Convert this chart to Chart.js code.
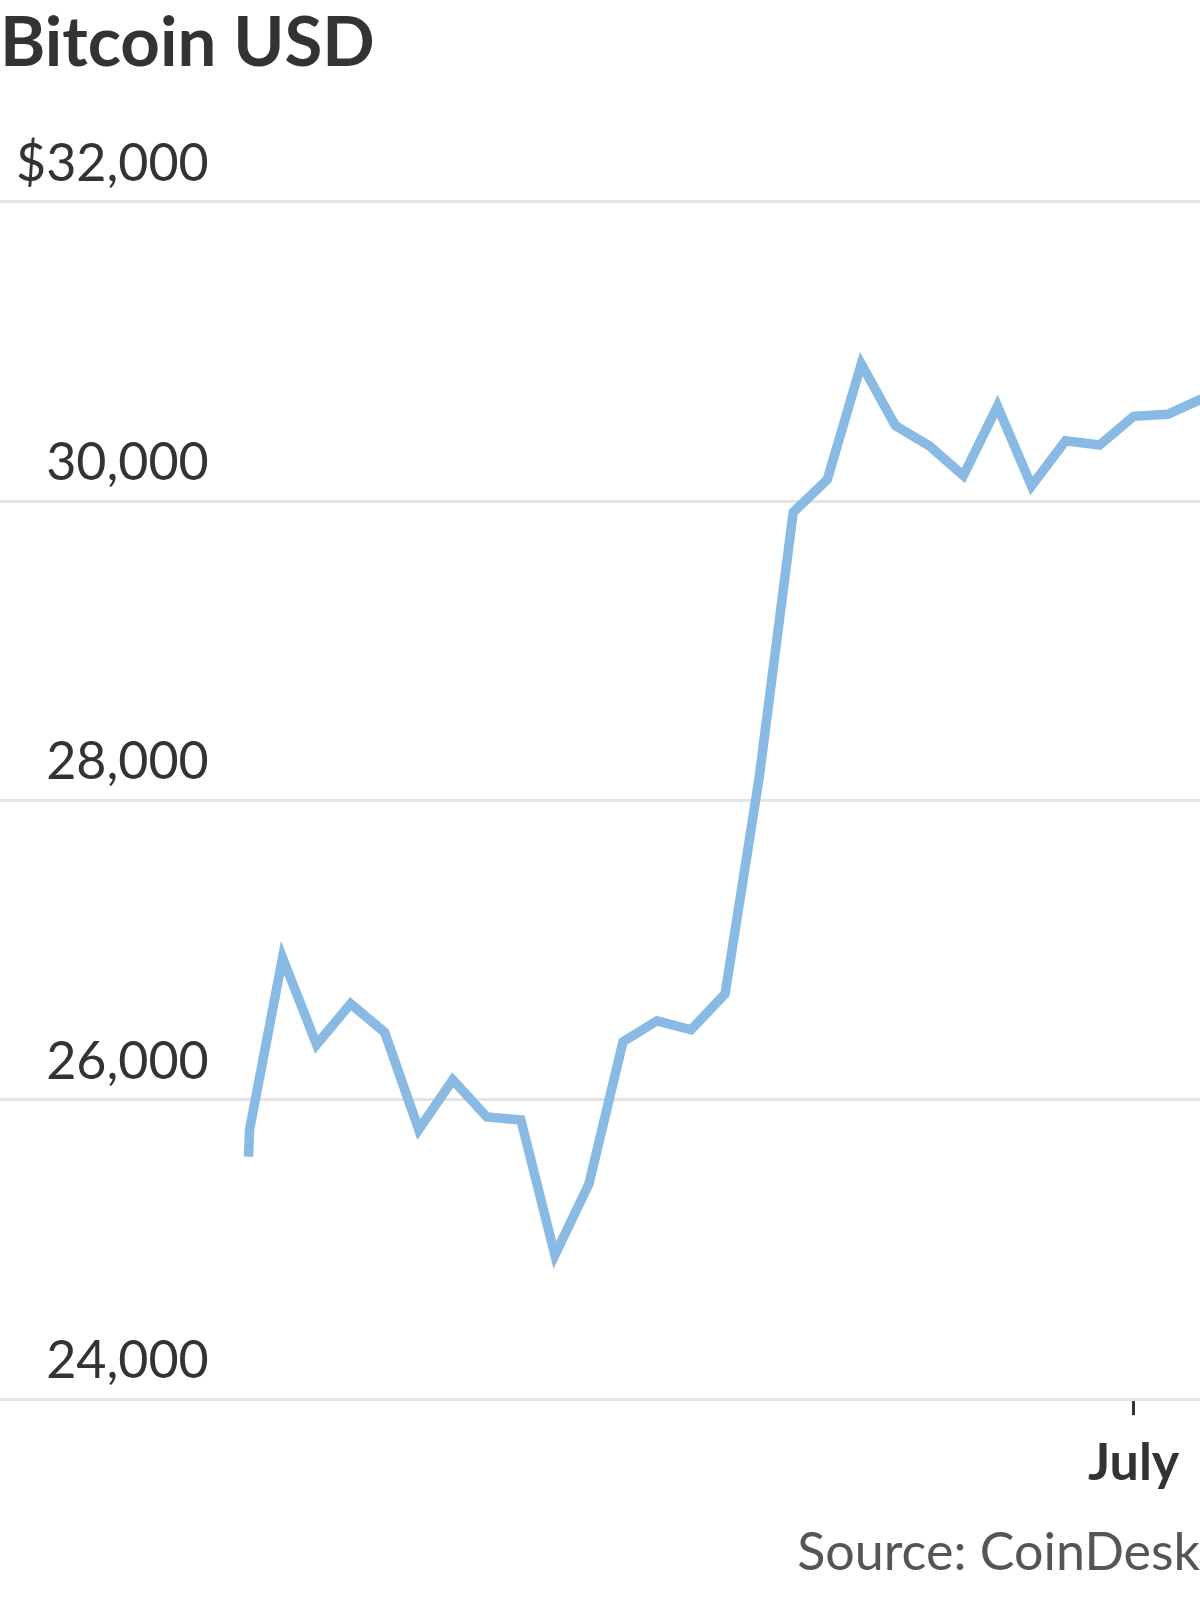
<!DOCTYPE html>
<html>
<head>
<meta charset="utf-8">
<script src="https://cdn.jsdelivr.net/npm/chart.js@4/dist/chart.umd.min.js"></script>
<style>
  html, body { margin: 0; padding: 0; background: #ffffff; }
  #wrap { width: 1200px; height: 1600px; position: relative; }
</style>
</head>
<body>
<div id="wrap"><canvas id="c"></canvas></div>
<script>
// Days relative to July 1 (0 = July 1)
const dayOffsets = [-26, -25.97, -25, -24, -23, -22, -21, -20, -19, -18, -17, -16, -15, -14, -13,
  -12, -11, -10, -9, -8, -7, -6, -5, -4, -3, -2, -1, 0, 1, 2];
const prices = [25620, 25800, 26949, 26369, 26642, 26451, 25802, 26134, 25886, 25866, 24963, 25438,
  26388, 26528, 26468, 26709, 28152, 29925, 30143, 30916, 30505, 30369, 30171, 30635, 30102, 30403,
  30375, 30567, 30580, 30683];

const yTickValues = [24000, 26000, 28000, 30000, 32000];
const yTickLabels = ['24,000', '26,000', '28,000', '30,000', '$32,000'];
const xTickValues = [0];
const xTickLabels = ['July'];

const titleText = 'Bitcoin USD';
const sourceText = 'Source: CoinDesk';

const points = dayOffsets.map((d, i) => ({ x: d, y: prices[i] }));

new Chart(document.getElementById('c'), {
  type: 'line',
  data: {
    datasets: [{
      data: points,
      borderColor: 'rgb(137,186,228)',
      borderWidth: 9.5,
      pointRadius: 0,
      tension: 0,
      borderJoinStyle: 'miter',
      fill: false
    }]
  },
  options: {
    responsive: true,
    maintainAspectRatio: false,
    animation: false,
    devicePixelRatio: 1,
    layout: { padding: 0 },
    plugins: {
      legend: { display: false },
      tooltip: { enabled: false },
      title: {
        display: true,
        text: titleText,
        align: 'start',
        color: '#333333',
        font: { family: 'Lato', weight: 'bold', size: 69 },
        padding: { top: 2, bottom: 117 }
      },
      subtitle: {
        display: true,
        text: sourceText,
        position: 'bottom',
        align: 'end',
        color: '#555555',
        font: { family: 'Lato', weight: 'normal', size: 52 },
        padding: { top: 10, bottom: 16 }
      }
    },
    scales: {
      x: {
        type: 'linear',
        min: -33.3,
        max: 1.95,
        afterBuildTicks: (axis) => { axis.ticks = xTickValues.map(v => ({ value: v })); },
        ticks: {
          autoSkip: false,
          maxRotation: 0,
          padding: 17,
          color: '#333333',
          font: { family: 'Lato', weight: 'bold', size: 52 },
          callback: (v) => { const i = xTickValues.indexOf(v); return i >= 0 ? xTickLabels[i] : ''; }
        },
        grid: {
          display: true,
          drawOnChartArea: false,
          drawTicks: true,
          tickLength: 16,
          tickColor: '#333333',
          tickWidth: 3
        },
        border: { display: false }
      },
      y: {
        min: 24000,
        max: 32000,
        afterBuildTicks: (axis) => { axis.ticks = yTickValues.map(v => ({ value: v })); },
        afterFit: (axis) => { axis.width = 0; },
        ticks: {
          mirror: true,
          crossAlign: 'far',
          padding: 16,
          labelOffset: -38,
          autoSkip: false,
          color: '#333333',
          font: { family: 'Lato', weight: 'normal', size: 52 },
          callback: (v) => { const i = yTickValues.indexOf(v); return i >= 0 ? yTickLabels[i] : ''; }
        },
        grid: {
          color: '#e4e4e4',
          lineWidth: 3,
          drawTicks: false,
          tickLength: 0
        },
        border: { display: false }
      }
    }
  }
});
</script>
</body>
</html>
